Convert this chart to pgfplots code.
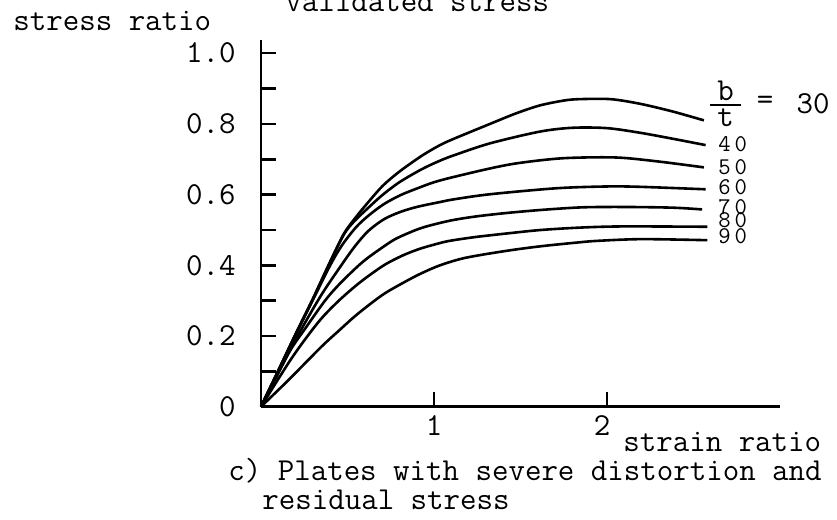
\documentclass[border=0pt]{standalone}
\usepackage{pgfplots}
\pgfplotsset{compat=1.18}
\usepackage{fontspec}

\begin{document}
\begin{tikzpicture}[font=\ttfamily\fontsize{16}{18}\selectfont]
\useasboundingbox (0,0) rectangle (418.5pt,260pt);
\begin{axis}[
  at={(130.5pt,56.65pt)}, anchor=south west,
  x=86.5pt, y=176.75pt,
  xmin=0, xmax=3.0, ymin=0, ymax=1.037,
  axis lines=left,
  axis line style={-, line width=1.3pt},
  tick align=inside,
  xtick={1,2}, xticklabels={1,\hspace*{-5pt}2},
  ytick={0,0.1,0.2,0.3,0.4,0.5,0.6,0.7,0.8,0.9,1.0},
  yticklabels={0,,0.2,,0.4,,0.6,,0.8,,1.0},
  major tick length=7.5pt,
  tick style={line width=1.3pt, black},
  yticklabel style={anchor=east, inner sep=0pt, xshift=-12.5pt},
  xticklabel style={anchor=north, yshift=-1pt},
  clip=false,
  cycle list={{black}},
  every axis plot/.append style={black, solid, line width=1.3pt, no marks, smooth},
]
% b/t = 30
\addplot coordinates {(0,0) (0.1,0.102) (0.2,0.205) (0.3,0.305) (0.4,0.41) (0.48,0.49) (0.55,0.537) (0.6,0.567) (0.7,0.623) (0.8,0.665) (0.93,0.71) (1.035,0.74) (1.12,0.759) (1.324,0.80) (1.47,0.829) (1.61,0.852) (1.75,0.866) (1.84,0.87) (2.02,0.87) (2.19,0.857) (2.38,0.835) (2.56,0.81)};
% 40
\addplot coordinates {(0,0) (0.1,0.102) (0.2,0.205) (0.3,0.305) (0.4,0.41) (0.48,0.488) (0.54,0.525) (0.61,0.558) (0.70,0.598) (0.80,0.635) (0.93,0.672) (1.035,0.696) (1.12,0.712) (1.324,0.745) (1.61,0.778) (1.8,0.789) (2.0,0.788) (2.19,0.775) (2.38,0.758) (2.57,0.74)};
% 50
\addplot coordinates {(0,0) (0.1,0.102) (0.2,0.204) (0.3,0.302) (0.4,0.40) (0.47,0.458) (0.55,0.508) (0.62,0.54) (0.707,0.572) (0.8,0.597) (0.9,0.617) (1.035,0.64) (1.324,0.674) (1.5,0.69) (1.75,0.703) (2.05,0.705) (2.29,0.694) (2.56,0.677)};
% 60
\addplot coordinates {(0,0) (0.1,0.095) (0.2,0.19) (0.341,0.31) (0.45,0.39) (0.54,0.452) (0.62,0.497) (0.71,0.53) (0.8,0.55) (0.9,0.565) (1.035,0.579) (1.12,0.587) (1.324,0.601) (1.71,0.618) (2.0,0.623) (2.19,0.622) (2.57,0.615)};
% 70
\addplot coordinates {(0,0) (0.158,0.15) (0.254,0.22) (0.37,0.30) (0.45,0.345) (0.55,0.393) (0.62,0.422) (0.736,0.462) (0.8,0.48) (0.93,0.506) (1.09,0.526) (1.24,0.538) (1.42,0.548) (1.63,0.557) (1.86,0.564) (2.1,0.565) (2.38,0.563) (2.55,0.558)};
% 80
\addplot coordinates {(0,0) (0.158,0.123) (0.254,0.19) (0.35,0.25) (0.45,0.30) (0.55,0.343) (0.63,0.373) (0.72,0.403) (0.82,0.428) (0.92,0.447) (1.035,0.463) (1.1,0.47) (1.24,0.48) (1.42,0.49) (1.62,0.5) (1.86,0.507) (2.1,0.51) (2.58,0.509)};
% 90
\addplot coordinates {(0,0) (0.158,0.075) (0.35,0.17) (0.45,0.215) (0.543,0.256) (0.63,0.29) (0.72,0.322) (0.85,0.358) (0.93,0.378) (1.035,0.4) (1.18,0.421) (1.42,0.441) (1.62,0.454) (1.82,0.464) (1.94,0.469) (2.2,0.474) (2.58,0.471)};
\end{axis}
% texts
\node[anchor=base west, inner sep=0pt] at (6.5pt,244.5pt) {stress ratio};
\node[anchor=base west, inner sep=0pt] at (142.5pt,254pt) {validated stress};
\node[anchor=base west, inner sep=0pt] at (311.5pt,34pt) {strain ratio};
\node[anchor=base west, inner sep=0pt] at (114pt,19.5pt) {c) Plates with severe distortion and};
\node[anchor=base west, inner sep=0pt] at (131pt,5pt) {residual stress};
% curve labels
\node[inner sep=0pt] at (362.75pt,214.5pt) {b};
\draw[line width=0.9pt] (355pt,207.5pt) -- (370.5pt,207.5pt);
\node[inner sep=0pt] at (362.75pt,201.25pt) {t};
\node[inner sep=0pt] at (382.5pt,208.5pt) {=};
\node[inner sep=0pt] at (406.5pt,208.25pt) {30};
\begin{scope}[every node/.style={anchor=west, inner sep=0pt, font=\ttfamily\fontsize{12}{13}\selectfont}]
\node at (359pt,187.75pt) {4\kern2pt0};
\node at (359pt,176.25pt) {5\kern2pt0};
\node at (359pt,166.25pt) {6\kern2pt0};
\node at (359pt,156.25pt) {7\kern2pt0};
\node at (359pt,149.75pt) {8\kern2pt0};
\node at (359pt,141.75pt) {9\kern2pt0};
\end{scope}
\end{tikzpicture}
\end{document}
